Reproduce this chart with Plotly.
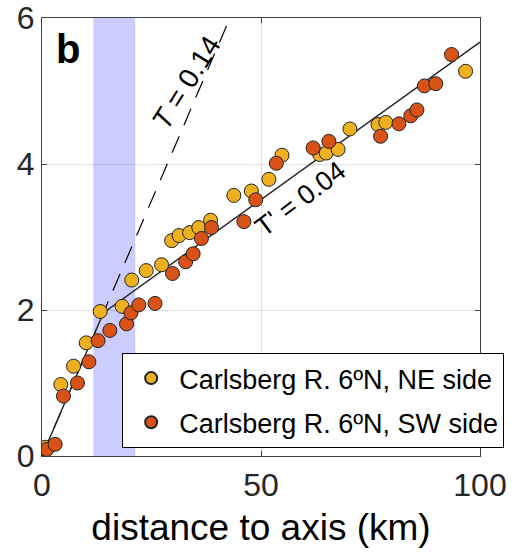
import plotly.graph_objects as go

# NE side (yellow)
ne_x = [0.8, 4.3, 7.2, 10.1, 13.3, 18.3, 20.5, 23.8, 27.3, 29.6, 31.3, 33.7, 35.8, 38.5,
        43.8, 47.8, 51.8, 54.8, 63.4, 64.9, 67.6, 70.3, 76.7, 78.5, 96.7]
ne_y = [0.12, 0.98, 1.23, 1.55, 1.98, 2.05, 2.41, 2.54, 2.62, 2.95, 3.02, 3.06, 3.13, 3.23,
        3.57, 3.63, 3.79, 4.12, 4.13, 4.15, 4.20, 4.48, 4.54, 4.57, 5.27]

# SW side (red)
sw_x = [1.1, 3.0, 4.9, 8.1, 10.7, 12.8, 15.5, 19.3, 20.3, 22.1, 25.8, 29.8, 32.8, 34.5,
        36.4, 38.7, 46.1, 48.8, 53.5, 61.9, 65.5, 77.3, 81.5, 84.2, 85.6, 87.3, 89.9, 93.5]
sw_y = [0.09, 0.16, 0.82, 1.00, 1.29, 1.58, 1.72, 1.81, 1.96, 2.07, 2.09, 2.50, 2.66, 2.77,
        2.98, 3.13, 3.21, 3.51, 4.01, 4.22, 4.31, 4.38, 4.55, 4.66, 4.74, 5.07, 5.10, 5.50]

# model curves
fit_x = [0, 14.0, 100]
fit_y = [0, 1.96, 5.67]
dash_x = [0, 42.9]
dash_y = [0, 6.0]

band = [11.7, 21.3]
x_ticks = [0, 50, 100]
y_ticks = [0, 2, 4, 6]

FONT = "Liberation Sans, Arial, Helvetica, sans-serif"

fig = go.Figure()
fig.add_vrect(x0=band[0], x1=band[1], y0=0, y1=1, fillcolor="rgb(204,204,255)",
              line_width=0, layer="below")

fig.add_trace(go.Scatter(x=dash_x, y=dash_y, mode="lines", showlegend=False,
                         line=dict(color="black", width=1.2, dash="18px,12px"), hoverinfo="skip"))
fig.add_trace(go.Scatter(x=fit_x, y=fit_y, mode="lines", showlegend=False,
                         line=dict(color="#222222", width=1.4), hoverinfo="skip"))

fig.add_trace(go.Scatter(x=ne_x, y=ne_y, mode="markers", name="Carlsberg R. 6ºN, NE side",
                         legendgroup="ne",
                         marker=dict(size=14, color="#EDB120", line=dict(color="#222222", width=1))))
fig.add_trace(go.Scatter(x=sw_x, y=sw_y, mode="markers", name="Carlsberg R. 6ºN, SW side",
                         legendgroup="sw",
                         marker=dict(size=14, color="#D95319", line=dict(color="#222222", width=1))))

fig.add_annotation(x=33.0, y=5.11, text="<i>T</i> = 0.14", showarrow=False, textangle=-58,
                   font=dict(family=FONT, size=28, color="black"))
fig.add_annotation(x=59.0, y=3.52, text="T' = 0.04", showarrow=False, textangle=-37,
                   font=dict(family=FONT, size=27, color="black"))
fig.add_annotation(x=0.059, y=0.93, xref="paper", yref="paper", xanchor="center", yanchor="middle",
                   text="<b>b</b>", showarrow=False,
                   font=dict(family=FONT, size=40, color="black"))

axis_common = dict(showline=True, linecolor="#404040", linewidth=1.3, mirror="ticks",
                   ticks="inside", ticklen=5, tickcolor="#404040", tickwidth=1,
                   showgrid=True, gridcolor="rgba(0,0,0,0.12)", gridwidth=1, zeroline=False,
                   automargin=False,
                   tickfont=dict(family=FONT, size=32, color="#262626"))

fig.update_xaxes(range=[0, 100], tickvals=x_ticks, ticktext=[str(v) for v in x_ticks],
                 title=dict(text="distance to axis (km)", font=dict(family=FONT, size=37, color="black"),
                            standoff=12),
                 **axis_common)
fig.update_yaxes(range=[0, 6], tickvals=y_ticks, ticktext=[str(v) for v in y_ticks], **axis_common)

fig.update_layout(
    width=519, height=555,
    margin=dict(l=42, r=39, t=18, b=99, autoexpand=False),
    paper_bgcolor="white", plot_bgcolor="white",
    font=dict(family=FONT, color="black"),
    legend=dict(x=0.183, y=0.235, xanchor="left", yanchor="top", bgcolor="white",
                bordercolor="black", borderwidth=1, font=dict(family=FONT, size=27, color="black"),
                itemsizing="constant", itemwidth=46, tracegroupgap=6),
)

fig.write_html("out.html", config={"displayModeBar": False},
               post_script="document.body.style.margin='0px';document.body.style.overflow='hidden';")
